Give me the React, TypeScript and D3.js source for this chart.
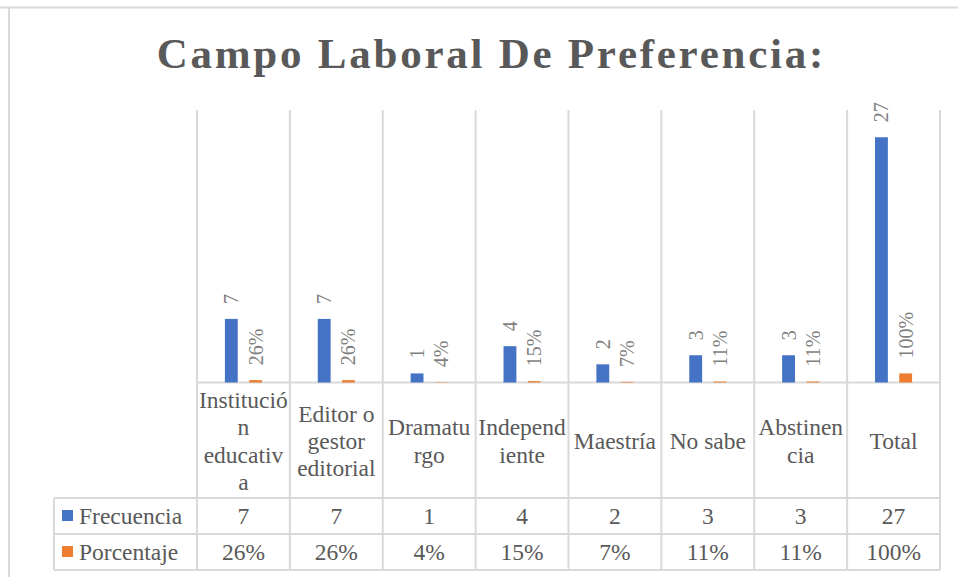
import * as d3 from "d3";

const categories = [
  "Institución educativa",
  "Editor o gestor editorial",
  "Dramaturgo",
  "Independiente",
  "Maestría",
  "No sabe",
  "Abstinencia",
  "Total",
];
// wrapped as the table header shows them
const categoryLines = [
  ["Institució", "n", "educativ", "a"],
  ["Editor o", "gestor", "editorial"],
  ["Dramatu", "rgo"],
  ["Independ", "iente"],
  ["Maestría"],
  ["No sabe"],
  ["Abstinen", "cia"],
  ["Total"],
];
const frecuencia = [7, 7, 1, 4, 2, 3, 3, 27];
const porcentaje = [0.26, 0.26, 0.04, 0.15, 0.07, 0.11, 0.11, 1];
const seriesNames = ["Frecuencia", "Porcentaje"];
const seriesColors = ["#4472C4", "#ED7D31"];
const yMax = 30;

const W = 958;
const H = 577;
const FONT = "'Liberation Serif', 'Times New Roman', serif";
const GRID = "#d9d9d9";
const TEXT = "#595959";

export default function App() {
  const plot = { left: 197, right: 940, top: 110, bottom: 382.5 };
  const table = { left: 54, row1: 498, row2: 534, bottom: 570 };

  const x0 = d3.scaleBand().domain(categories).range([plot.left, plot.right]).padding(0);
  const x1 = d3
    .scaleBand()
    .domain(seriesNames)
    .range([0, x0.bandwidth()])
    .paddingInner(0.47)
    .paddingOuter(1.15);
  const y = d3.scaleLinear().domain([0, yMax]).range([plot.bottom, plot.top]);

  const pct = d3.format(".0%");
  const values = [frecuencia, porcentaje];
  const fmt = [(v: number) => String(v), (v: number) => pct(v)];

  const bounds = categories.map(c => x0(c)!).concat([plot.right]);
  const rowMid = [(table.row1 + table.row2) / 2, (table.row2 + table.bottom) / 2];
  const headerMidBaseline = 449;
  const lineStep = 27.3;

  return (
    <svg
      width={W}
      height={H}
      style={{ position: "absolute", left: 0, top: 0, display: "block", background: "#fff" }}
      fontFamily={FONT}
    >
      {/* chart frame */}
      <line x1={0} x2={W} y1={7.5} y2={7.5} stroke={GRID} strokeWidth={2} />
      <line x1={9} x2={9} y1={7.5} y2={H} stroke={GRID} strokeWidth={2} />

      <text
        x={490 + 1.4}
        y={68}
        textAnchor="middle"
        fontSize={43}
        fontWeight="bold"
        letterSpacing={2.75}
        fill={TEXT}
      >
        Campo Laboral De Preferencia:
      </text>

      {/* vertical grid lines, run down through the data table */}
      {bounds.map((bx, i) => (
        <line key={"v" + i} x1={bx} x2={bx} y1={plot.top} y2={table.bottom} stroke={GRID} strokeWidth={2} />
      ))}
      <line x1={table.left} x2={table.left} y1={table.row1} y2={table.bottom} stroke={GRID} strokeWidth={2} />
      <line x1={plot.left} x2={plot.right} y1={plot.bottom} y2={plot.bottom} stroke={GRID} strokeWidth={2} />
      {[table.row1, table.row2, table.bottom].map((ry, i) => (
        <line key={"h" + i} x1={table.left} x2={plot.right} y1={ry} y2={ry} stroke={GRID} strokeWidth={2} />
      ))}

      {/* bars */}
      {seriesNames.map((s, si) => (
        <g key={s}>
          {categories.map((c, ci) => {
            const v = values[si][ci];
            const bx = x0(c)! + x1(s)!;
            return (
              <rect
                key={c}
                x={bx}
                y={y(v)}
                width={x1.bandwidth()}
                height={y(0) - y(v)}
                fill={seriesColors[si]}
              />
            );
          })}
        </g>
      ))}

      {/* rotated data labels */}
      {seriesNames.map((s, si) => (
        <g key={"l" + s}>
          {categories.map((c, ci) => {
            const v = values[si][ci];
            const lx = x0(c)! + x1(s)! + x1.bandwidth() / 2;
            const ly = y(v) - 15;
            return (
              <text
                key={c}
                x={lx}
                y={ly}
                transform={`rotate(-90, ${lx}, ${ly})`}
                textAnchor="start"
                dominantBaseline="central"
                fontSize={20}
                fill="#7f7f7f"
              >
                {fmt[si](v)}
              </text>
            );
          })}
        </g>
      ))}

      {/* category header row */}
      {categories.map((c, ci) => {
        const lines = categoryLines[ci];
        const cx = x0(c)! + x0.bandwidth() / 2;
        const first = headerMidBaseline - ((lines.length - 1) * lineStep) / 2;
        return (
          <text key={"c" + c} x={cx} textAnchor="middle" fontSize={23.5} fill={TEXT}>
            {lines.map((ln, li) => (
              <tspan key={li} x={cx} y={first + li * lineStep}>
                {ln}
              </tspan>
            ))}
          </text>
        );
      })}

      {/* legend column + values */}
      {seriesNames.map((s, si) => (
        <g key={"t" + s}>
          <rect x={62} y={rowMid[si] - 6} width={11} height={11} fill={seriesColors[si]} />
          <text x={79} y={rowMid[si]} dominantBaseline="central" fontSize={23.5} fill={TEXT}>
            {s}
          </text>
          {categories.map((c, ci) => (
            <text
              key={c}
              x={x0(c)! + x0.bandwidth() / 2}
              y={rowMid[si]}
              textAnchor="middle"
              dominantBaseline="central"
              fontSize={23.5}
              fill={TEXT}
            >
              {fmt[si](values[si][ci])}
            </text>
          ))}
        </g>
      ))}
    </svg>
  );
}
